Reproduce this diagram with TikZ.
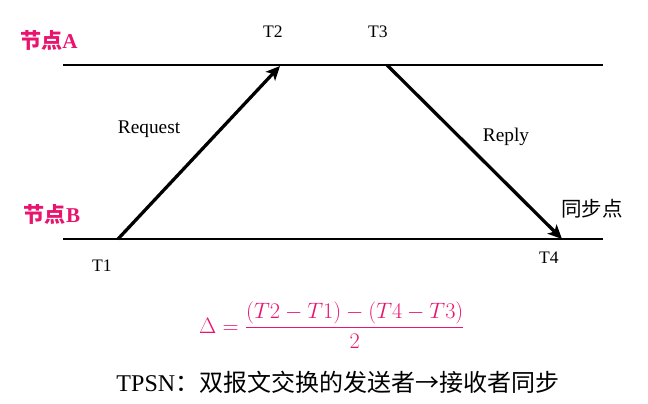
\RequirePackage{fix-cm}
\documentclass[tikz,border=0pt]{standalone}
\usepackage{amsmath}
\usepackage{fontspec}
\setmainfont{Liberation Serif}
\newfontfamily\cjk{Noto Sans CJK SC}
\usetikzlibrary{arrows.meta,positioning,calc}
\definecolor{SyncPink}{RGB}{232,20,110}
\definecolor{SyncRule}{RGB}{0,0,0}

\begin{document}
\begin{tikzpicture}[x=0.03cm,y=-0.03cm,
    timeline/.style={draw=SyncRule,line width=1pt},
    msg/.style={line width=2.8pt,-{Stealth[length=12pt,width=11pt,inset=3pt]}},
    stamp/.style={font=\fontsize{15}{17}\selectfont,inner sep=1pt},
    word/.style={font=\fontsize{16.5}{19}\selectfont,inner sep=1pt},
    nodelabel/.style={text=SyncPink,font=\bfseries\fontsize{18}{21}\selectfont,inner sep=1pt},
    caption/.style={font=\fontsize{20.5}{24}\selectfont,inner sep=1pt}
  ]
    \useasboundingbox (0,0) rectangle (648,404);

    % the two time lines
    \coordinate (aw) at (63,65);  \coordinate (ae) at (603,65);
    \coordinate (bw) at (63,239); \coordinate (be) at (603,239);
    \draw[timeline] (aw) -- (ae);
    \draw[timeline] (bw) -- (be);
    \node[nodelabel] (nodeA) at (49,40) {{\cjk 节点}A};
    \node[nodelabel] (nodeB) at (52,214) {{\cjk 节点}B};

    % message exchange
    \coordinate (t1) at (118,239); \coordinate (t2) at (280,66);
    \coordinate (t3) at (387,65);  \coordinate (t4) at (562,239);
    \draw[msg] (t1) -- (t2);
    \draw[msg] (t3) -- (t4);
    \node[stamp] (labT1) at (102,266) {T1};
    \node[stamp] (labT2) at (273,32) {T2};
    \node[stamp] (labT3) at (378,32) {T3};
    \node[stamp] (labT4) at (549,258) {T4};
    \node[word] (req) at (149,129) {Request};
    \node[word] (rep) at (506,137) {Reply};
    \node[word,font=\cjk\fontsize{17.5}{20}\selectfont] (sync) at (592,209) {同步点};

    % offset formula
    \node[caption,text=SyncPink,font=\fontsize{19}{23}\selectfont] (formula) at (332,325)
      {$\displaystyle \Delta=\frac{(T2-T1)-(T4-T3)}{2}$};
    \node[caption] (note) at (338,382) {TPSN{\cjk：双报文交换的发送者→接收者同步}};
  \end{tikzpicture}
\end{document}
